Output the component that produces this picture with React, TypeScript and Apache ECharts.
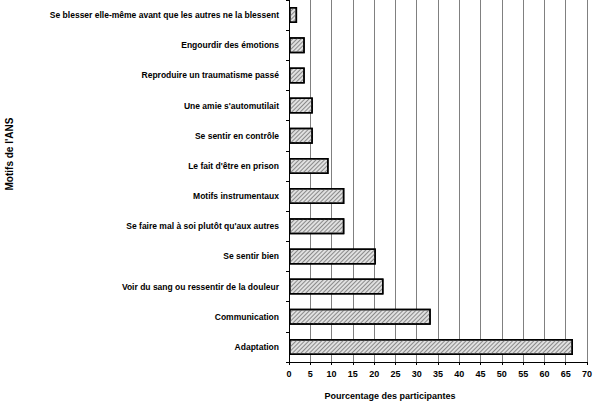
import { useEffect, useRef } from 'react';
import * as echarts from 'echarts';

// Motifs, listed top to bottom as in the figure
const categories = [
    'Se blesser elle-même avant que les autres ne la blessent',
    'Engourdir des émotions',
    'Reproduire un traumatisme passé',
    "Une amie s'automutilait",
    'Se sentir en contrôle',
    "Le fait d'être en prison",
    'Motifs instrumentaux',
    "Se faire mal à soi plutôt qu'aux autres",
    'Se sentir bien',
    'Voir du sang ou ressentir de la douleur',
    'Communication',
    'Adaptation',
];

// Pourcentage des participantes
const values = [1.9, 3.7, 3.7, 5.6, 5.6, 9.3, 13.0, 13.0, 20.4, 22.2, 33.3, 66.7];

const xMin = 0;
const xMax = 70;
const xStep = 5;

const labelFont = 'Liberation Sans Narrow, Arial Narrow, sans-serif';
const titleFont = 'Liberation Sans, Arial, sans-serif';

export default function App() {
    const chartRef = useRef<HTMLDivElement>(null);

    useEffect(() => {
        if (!chartRef.current) return;
        const chart = echarts.init(chartRef.current, undefined, { renderer: 'svg' });
        chart.setOption({
            animation: false,
            backgroundColor: '#fff',
            grid: { left: 289, right: 8, top: -6.5, bottom: 40 },
            xAxis: {
                type: 'value',
                min: xMin,
                max: xMax,
                interval: xStep,
                axisLine: { show: true, lineStyle: { color: '#000', width: 1 } },
                axisTick: { show: true, length: 3, lineStyle: { color: '#000' } },
                axisLabel: {
                    margin: 7,
                    fontFamily: labelFont,
                    fontWeight: 'bold',
                    fontSize: 9,
                    color: '#000',
                },
                splitLine: { show: true, lineStyle: { color: '#808080', width: 1 } },
            },
            yAxis: {
                type: 'category',
                data: categories,
                inverse: true,
                axisLine: { show: true, lineStyle: { color: '#000', width: 1 } },
                axisTick: { show: true, length: 3, lineStyle: { color: '#000' } },
                axisLabel: {
                    margin: 10,
                    fontFamily: labelFont,
                    fontWeight: 'bold',
                    fontSize: 8.5,
                    color: '#000',
                },
                splitLine: { show: false },
            },
            graphic: [
                {
                    type: 'text',
                    x: 390,
                    y: 396,
                    style: {
                        text: 'Pourcentage des participantes',
                        fontFamily: titleFont,
                        fontWeight: 'bold',
                        fontSize: 9,
                        fill: '#000',
                        align: 'center',
                        verticalAlign: 'middle',
                    },
                },
                {
                    type: 'text',
                    x: 9,
                    y: 154,
                    rotation: Math.PI / 2,
                    style: {
                        text: "Motifs de l'ANS",
                        fontFamily: titleFont,
                        fontWeight: 'bold',
                        fontSize: 10,
                        fill: '#000',
                        align: 'center',
                        verticalAlign: 'middle',
                    },
                },
            ],
            series: [
                {
                    type: 'bar',
                    data: values,
                    barWidth: 16,
                    itemStyle: {
                        color: '#e0e0e0',
                        borderColor: '#000',
                        borderWidth: 1.5,
                        decal: {
                            symbol: 'rect',
                            color: '#8a8a8a',
                            dashArrayX: [1, 0],
                            dashArrayY: [1, 1.5],
                            rotation: -Math.PI / 4,
                        },
                    },
                },
            ],
        });
        return () => chart.dispose();
    }, []);

    return (
        <div
            ref={chartRef}
            style={{ position: 'fixed', left: 0, top: 0, width: '595px', height: '402px' }}
        ></div>
    );
}
